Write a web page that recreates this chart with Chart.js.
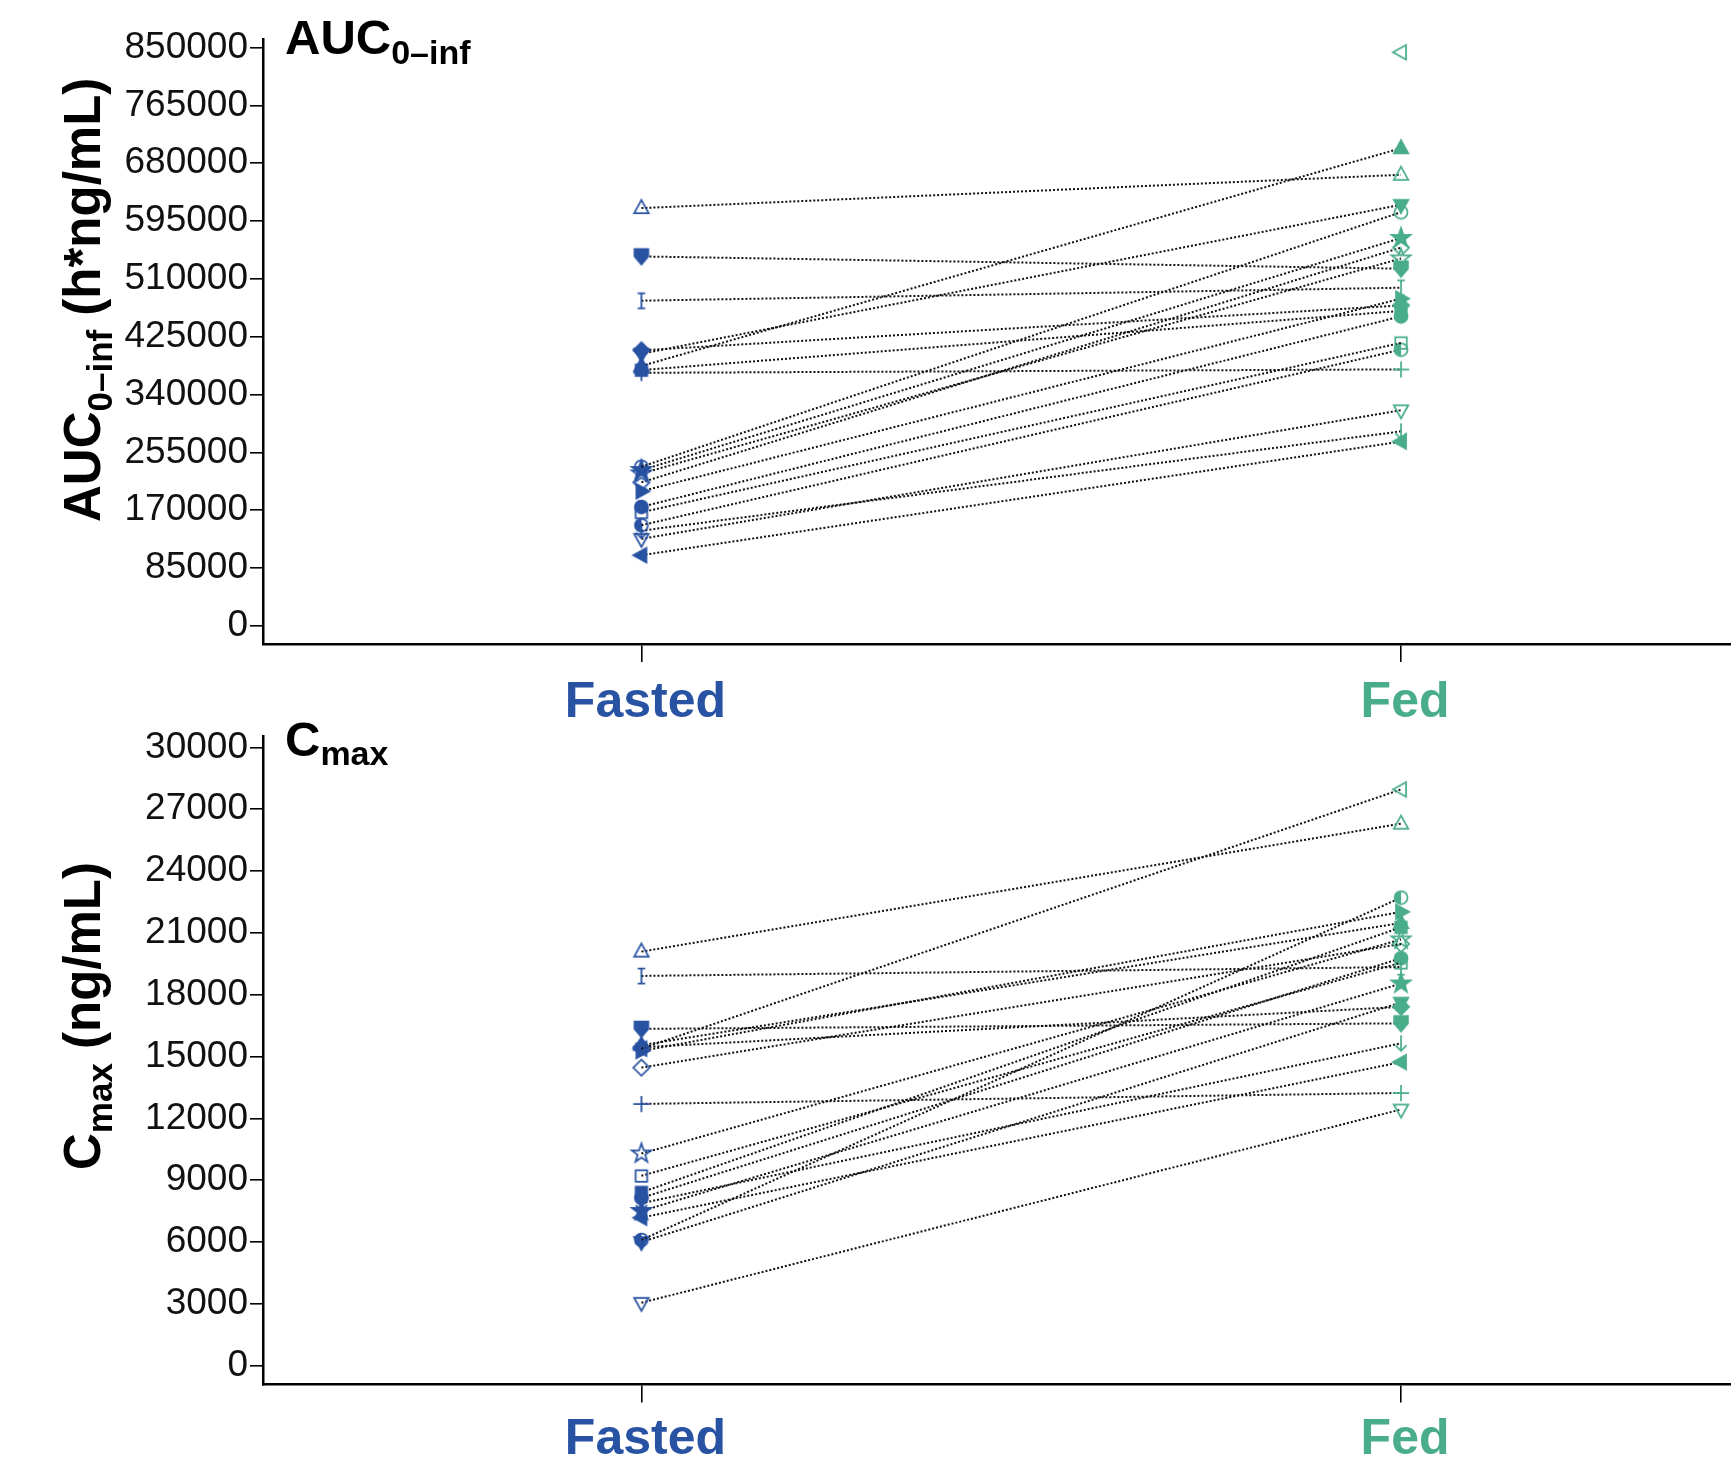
<!DOCTYPE html>
<html>
<head>
<meta charset="utf-8">
<script src="https://cdn.jsdelivr.net/npm/chart.js@4.4.1/dist/chart.umd.min.js"></script>
<style>
  html, body { margin: 0; padding: 0; background: #ffffff; }
  #wrap { position: relative; width: 1731px; height: 1474px; overflow: hidden; background: #fff; }
  #c1 { position: absolute; left: 0; top: 0; }
  #c2 { position: absolute; left: 0; top: 700px; }
</style>
</head>
<body>
<div id="wrap">
  <canvas id="c1" width="1731" height="760"></canvas>
  <canvas id="c2" width="1731" height="774"></canvas>
</div>
<script>
// ---------------- data ----------------
const CATEGORIES = ['Fasted', 'Fed'];
const AUC_TICKS = [0, 85000, 170000, 255000, 340000, 425000, 510000, 595000, 680000, 765000, 850000];
const CMAX_TICKS = [0, 3000, 6000, 9000, 12000, 15000, 18000, 21000, 24000, 27000, 30000];

// AUC0-inf (h*ng/mL), one entry per subject
const AUC_FASTED = [614000, 543000, 478000, 405000, 400000, 382000, 376000, 372000, 234000, 229000,
                    224000, 211000, 198000, 175000, 167000, 148000, 140000, 128000, 104000, null];
const AUC_FED    = [663000, 525000, 497000, 471000, 619000, 702000, 463000, 377000, 608000, 570000,
                    540000, 556000, 481000, 455000, 416000, 406000, 286000, 317000, 271000, 843000];

// Cmax (ng/mL), one entry per subject
const CMAX_FASTED = [20090, 15380, 18910, 16340, 15550, 15270, 15450, 14460, 12700, 10290,
                     9210, 8410, 8140, 7880, 7500, 7180, 6100, 6000, 3050];
const CMAX_FED    = [26300, 27960, 19340, 16610, 21480, 22020, 17410, 20460, 13230, 20680,
                     19550, 21270, 19770, 15640, 18540, 14730, 22710, 17620, 12430];

// marker symbol per subject (shape, filled)
const AUC_MARKERS = [['triUp',0],['shield',1],['ibar',0],['diamond',1],['triDown',1],['triUp',1],['square',1],['plus',0],
                     ['circle',0],['star',1],['star',0],['diamond',0],['triRight',1],['circle',1],['square',0],['half',0],
                     ['arrowDown',0],['triDown',0],['triLeft',1],['triLeft',0]];
const CMAX_MARKERS = [['triUp',0],['triLeft',0],['ibar',0],['shield',1],['triUp',1],['triRight',1],['diamond',1],['diamond',0],
                      ['plus',0],['star',0],['square',0],['square',1],['circle',1],['arrowDown',0],['star',1],['triLeft',1],
                      ['half',0],['triDown',1],['triDown',0]];

// ---------------- styling ----------------
const BLUE = '#2852a2';
const GREEN = '#4aad8a';
const FONT = '"Liberation Sans", Arial, Helvetica, sans-serif';
const MK = 1.25; // marker scale

function makeMarker(shape, color, filled) {
  const s = 28, c = document.createElement('canvas');
  c.width = s; c.height = s;
  const g = c.getContext('2d');
  g.translate(s / 2, s / 2);
  g.scale(MK, MK);
  g.strokeStyle = color; g.fillStyle = color; g.lineWidth = 1.4; g.lineJoin = 'miter';
  const rot = { triDown: Math.PI, triLeft: -Math.PI / 2, triRight: Math.PI / 2 }[shape] || 0;
  g.rotate(rot);
  g.beginPath();
  switch (shape) {
    case 'triUp': case 'triDown': case 'triLeft': case 'triRight':
      g.moveTo(0, -6.5); g.lineTo(5.8, 4); g.lineTo(-5.8, 4); g.closePath(); break;
    case 'circle': g.arc(0, 0, 5.2, 0, 2 * Math.PI); break;
    case 'square': g.rect(-4.6, -4.6, 9.2, 9.2); break;
    case 'diamond': g.moveTo(0, -6.5); g.lineTo(6.5, 0); g.lineTo(0, 6.5); g.lineTo(-6.5, 0); g.closePath(); break;
    case 'star':
      for (let k = 0; k < 10; k++) {
        const r = k % 2 ? 3.2 : 8; const a = -Math.PI / 2 + k * Math.PI / 5;
        g.lineTo(r * Math.cos(a), r * Math.sin(a));
      }
      g.closePath(); break;
    case 'shield': g.moveTo(-5.5, -6); g.lineTo(5.5, -6); g.lineTo(5.5, 0); g.lineTo(0, 6.5); g.lineTo(-5.5, 0); g.closePath(); break;
    case 'plus': g.moveTo(-6.5, 0); g.lineTo(6.5, 0); g.moveTo(0, -6.5); g.lineTo(0, 6.5); g.stroke(); return c;
    case 'ibar': g.moveTo(0, -6); g.lineTo(0, 6); g.moveTo(-3, -6); g.lineTo(3, -6); g.moveTo(-3, 6); g.lineTo(3, 6); g.stroke(); return c;
    case 'arrowDown': g.moveTo(0, -6.5); g.lineTo(0, 6); g.moveTo(-4.5, 1.5); g.lineTo(0, 6); g.lineTo(4.5, 1.5); g.stroke(); return c;
    case 'half':
      g.arc(0, 0, 5.2, 0, 2 * Math.PI); g.stroke();
      g.beginPath(); g.arc(0, 0, 5.2, Math.PI / 2, 3 * Math.PI / 2); g.closePath(); g.fill(); return c;
  }
  if (filled) g.fill();
  g.stroke();
  return c;
}

function buildDatasets(fasted, fed, markers) {
  return fasted.map((v, i) => {
    const [shape, filled] = markers[i];
    return {
      data: [{ x: 1, y: v }, { x: 2, y: fed[i] }],
      borderColor: '#111111',
      borderWidth: 2,
      borderDash: [2, 2],
      fill: false,
      tension: 0,
      spanGaps: false,
      pointStyle: [makeMarker(shape, BLUE, filled), makeMarker(shape, GREEN, filled)],
      pointRadius: 6,
      pointHoverRadius: 6
    };
  });
}

function drawParts(ctx, parts) {
  let x = 0;
  for (const p of parts) {
    ctx.font = 'bold ' + p.size + 'px ' + FONT;
    ctx.fillText(p.t, x, p.dy || 0);
    x += ctx.measureText(p.t).width;
  }
}

const titlesPlugin = {
  id: 'titles',
  afterDraw(chart, args, o) {
    const ctx = chart.ctx;
    ctx.save();
    ctx.fillStyle = '#000';
    ctx.textBaseline = 'alphabetic';
    ctx.textAlign = 'left';
    ctx.save(); ctx.translate(o.panelX, o.panelY); drawParts(ctx, o.panel); ctx.restore();
    ctx.save(); ctx.translate(o.axisX, o.axisY); ctx.rotate(-Math.PI / 2); drawParts(ctx, o.axis); ctx.restore();
    ctx.restore();
  }
};

function makeChart(canvasId, cfg) {
  return new Chart(document.getElementById(canvasId), {
    type: 'line',
    data: { datasets: buildDatasets(cfg.fasted, cfg.fed, cfg.markers) },
    plugins: [titlesPlugin],
    options: {
      responsive: false,
      animation: false,
      devicePixelRatio: 1,
      layout: { autoPadding: false, padding: { top: cfg.top, left: 0, right: 0, bottom: 0 } },
      plugins: {
        legend: { display: false },
        tooltip: { enabled: false },
        titles: cfg.titles
      },
      scales: {
        x: {
          type: 'linear',
          min: 0.5018,
          max: 2.4344,
          afterBuildTicks: s => { s.ticks = [{ value: 1 }, { value: 2 }]; },
          afterFit: s => { s.height = cfg.xHeight; },
          ticks: {
            autoSkip: false,
            maxRotation: 0,
            padding: cfg.xPad,
            labelOffset: 4,
            font: { family: FONT, size: 50, weight: 'bold' },
            color: ctx => (ctx.tick && ctx.tick.value === 2) ? GREEN : BLUE,
            callback: v => CATEGORIES[v - 1] || ''
          },
          grid: { drawOnChartArea: false, drawTicks: true, tickLength: 18, color: '#000', lineWidth: 1.6 },
          border: { display: true, color: '#000', width: 2.5 }
        },
        y: {
          type: 'linear',
          min: cfg.yMin,
          max: cfg.yMax,
          afterBuildTicks: s => { s.ticks = cfg.ticks.map(v => ({ value: v })); },
          afterFit: s => { s.width = 263; },
          ticks: {
            autoSkip: false,
            padding: 2,
            font: { family: FONT, size: 37 },
            color: '#111',
            callback: v => String(v)
          },
          grid: { drawOnChartArea: false, drawTicks: true, tickLength: 13, color: '#000', lineWidth: 1.6 },
          border: { display: true, color: '#000', width: 2.5 }
        }
      }
    }
  });
}

makeChart('c1', {
  fasted: AUC_FASTED, fed: AUC_FED, markers: AUC_MARKERS, ticks: AUC_TICKS,
  yMin: -26500, yMax: 862500, top: 39, xHeight: 116, xPad: 11,
  titles: {
    panelX: 285, panelY: 54,
    panel: [{ t: 'AUC', size: 49 }, { t: '0\u2013inf', size: 34, dy: 10 }],
    axisX: 100, axisY: 522,
    axis: [{ t: 'AUC', size: 51 }, { t: '0\u2013inf', size: 35, dy: 12 }, { t: ' (h*ng/mL)', size: 51 }]
  }
});

makeChart('c2', {
  fasted: CMAX_FASTED, fed: CMAX_FED, markers: CMAX_MARKERS, ticks: CMAX_TICKS,
  yMin: -912, yMax: 30553, top: 36, xHeight: 89.6, xPad: 8,
  titles: {
    panelX: 285, panelY: 56,
    panel: [{ t: 'C', size: 49 }, { t: 'max', size: 34, dy: 9 }],
    axisX: 100, axisY: 470,
    axis: [{ t: 'C', size: 51 }, { t: 'max', size: 35, dy: 12 }, { t: ' (ng/mL)', size: 51 }]
  }
});
</script>
</body>
</html>
